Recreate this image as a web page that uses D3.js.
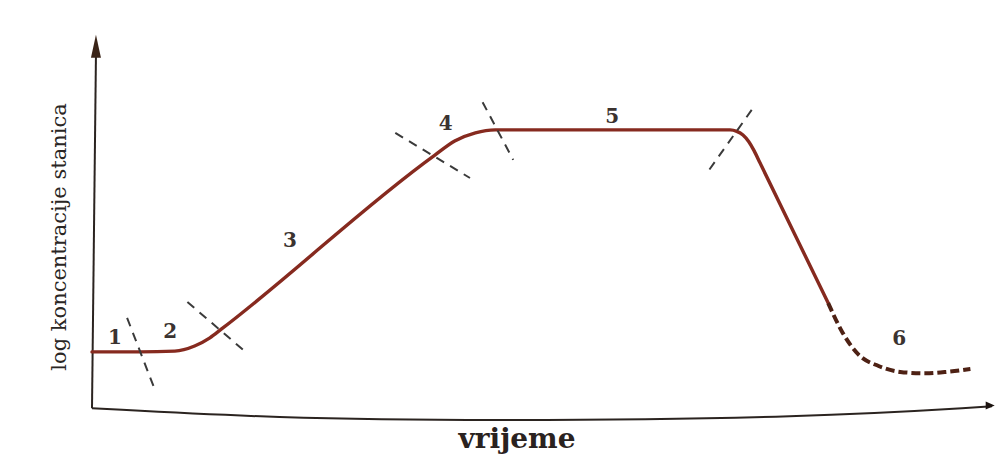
<!DOCTYPE html>
<html lang="hr">
  <head>
    <meta charset="utf-8">
    <title>Krivulja rasta</title>
    <script src="https://d3js.org/d3.v7.js"></script>
    <style>
      body { margin: 0; background: #fff; }
    </style>
  </head>
  <body>
  <script>

// data: time (0-100) vs log cell concentration (0-10)

  var growthSolid = [[0, 1.57], [5.3, 1.57], [9.2, 1.59], [11.4, 1.73], [13.1, 1.95], [14.4, 2.19],
                     [38.1, 6.89], [40.3, 7.27], [42.6, 7.49], [44.8, 7.57], [70.9, 7.57],
                     [71.64, 7.53], [72.33, 7.43], [72.98, 7.25], [73.56, 7.01], [74.22, 6.68],
                     [81.8, 2.89]];
  var growthDashed = [[81.8, 2.89], [83.4, 2.09], [85.2, 1.49], [87.4, 1.19], [89.8, 1.03],
                      [92.6, 0.99], [95.0, 1.03], [97.6, 1.11]];

  // phase borders (dashed ticks across the curve)
  var borders = [[[3.9, 2.49], [7.0, 0.54]],
                 [[10.6, 2.92], [17.2, 1.54]],
                 [[33.7, 7.49], [42.0, 6.27]],
                 [[43.4, 8.32], [46.8, 6.76]],
                 [[73.3, 8.11], [68.4, 6.43]]];

  var phaseLabels = ["1", "2", "3", "4", "5", "6"];
  var phasePos = [[2.55, 1.78], [8.7, 1.95], [22.0, 4.4], [39.3, 7.57], [57.8, 7.76], [89.7, 1.76]];

  var xLabel = "vrijeme";
  var yLabel = "log koncentracije stanica";

  var w = 998, h = 456;

  var x = d3.scaleLinear().domain([0, 100]).range([92, 992]);
  var y = d3.scaleLinear().domain([0, 10]).range([410, 40]);

  var svg = d3.select("body").append("svg")
      .attr("width", w)
      .attr("height", h);

  var axisColor = "#2b2420";
  var curveColor = "#862a1f";

// axes (hand drawn look: x axis sags a little)

  svg.append("path")
      .attr("d", d3.line().x(d => x(d[0])).y(d => y(d[1])).curve(d3.curveBasis)(
        [[0, 0.05], [20, -0.22], [45, -0.3], [80, -0.2], [100, 0.1]]))
      .attr("fill", "none")
      .attr("stroke", axisColor)
      .attr("stroke-width", 2);

  svg.append("path")
      .attr("d", d3.line().x(d => x(d[0])).y(d => y(d[1]))([[0, 0.05], [0.44, 9.6]]))
      .attr("fill", "none")
      .attr("stroke", axisColor)
      .attr("stroke-width", 2);

  // arrow heads
  var tipY = [x(0.44), y(10.14)];
  svg.append("path")
      .attr("d", `M${tipY[0]},${tipY[1]} L${tipY[0] - 5},${tipY[1] + 23} L${tipY[0] + 5},${tipY[1] + 23} Z`)
      .attr("fill", "#3a2418");

  var tipX = [x(100.3), y(0.12)];
  svg.append("path")
      .attr("d", `M${tipX[0]},${tipX[1]} L${tipX[0] - 9},${tipX[1] - 4} L${tipX[0] - 9},${tipX[1] + 4} Z`)
      .attr("fill", "#1c1410");

// growth curve

  var line = d3.line()
      .x(d => x(d[0]))
      .y(d => y(d[1]))
      .curve(d3.curveMonotoneX);

  svg.append("path")
      .attr("d", line(growthSolid))
      .attr("fill", "none")
      .attr("stroke", curveColor)
      .attr("stroke-width", 3.4)
      .attr("stroke-linecap", "round");

  svg.append("path")
      .attr("d", line(growthDashed))
      .attr("fill", "none")
      .attr("stroke", "#4e2114")
      .attr("stroke-width", 4)
      .attr("stroke-dasharray", "9,4");

// phase borders

  svg.selectAll("path.border")
    .data(borders)
    .enter().append("path")
      .attr("class", "border")
      .attr("d", d => d3.line().x(p => x(p[0])).y(p => y(p[1]))(d))
      .attr("fill", "none")
      .attr("stroke", "#3a3a3a")
      .attr("stroke-width", 2)
      .attr("stroke-dasharray", "9,7");

// phase numbers

  svg.selectAll("text.phase")
    .data(phaseLabels)
    .enter().append("text")
      .attr("class", "phase")
      .attr("x", (d, i) => x(phasePos[i][0]))
      .attr("y", (d, i) => y(phasePos[i][1]))
      .attr("text-anchor", "middle")
      .attr("font-family", "DejaVu Serif, serif")
      .attr("font-weight", "bold")
      .attr("font-size", 20)
      .attr("fill", "#3b3330")
      .text(d => d);

// axis titles

  svg.append("text")
      .attr("transform", "translate(66, 237) rotate(-90)")
      .attr("text-anchor", "middle")
      .attr("font-family", "DejaVu Serif, serif")
      .attr("font-size", 21)
      .attr("fill", "#2a2624")
      .text(yLabel);

  svg.append("text")
      .attr("x", 517)
      .attr("y", 448)
      .attr("text-anchor", "middle")
      .attr("font-family", "DejaVu Serif, serif")
      .attr("font-weight", "bold")
      .attr("font-size", 28)
      .attr("fill", "#2a2220")
      .text(xLabel);

  </script>
  </body>
</html>
